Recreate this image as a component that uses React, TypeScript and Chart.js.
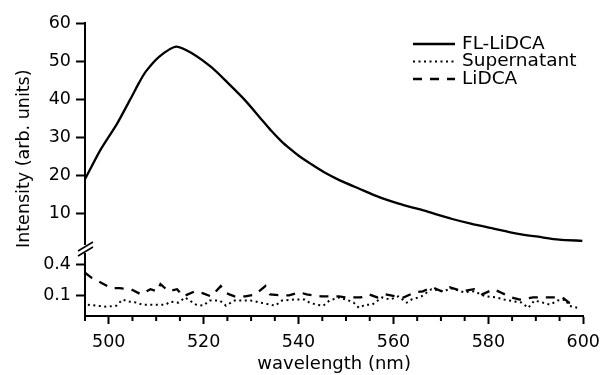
import React, { useEffect, useRef } from "react";
import { Chart, registerables } from "chart.js";

Chart.register(...registerables);

const FONT = "'DejaVu Sans', 'Liberation Sans', sans-serif";

const seriesLabels = ["FL-LiDCA", "Supernatant", "LiDCA"];
const xTitle = "wavelength (nm)";
const yTitle = "Intensity (arb. units)";
const xMajorTicks = [500, 520, 540, 560, 580, 600];
const upperTicks = [10, 20, 30, 40, 50, 60];
const lowerTicks = [0.1, 0.4];

const flWavelength = [495, 498.2, 501.8, 505.0, 506.4, 507.8, 510.6, 514.2, 517.6, 521.7, 525.2, 528.7, 532, 534.2, 536.3, 538.3, 540.1, 542.5, 545.3, 548.7, 552.8, 557, 561.1, 563.9, 566.3, 568.7, 572.2, 576.3, 581.1, 586, 590.8, 594.9, 599.8];
const flIntensity = [18.9, 26.5, 33.6, 41.0, 44.3, 47.2, 51.1, 53.8, 52.0, 48.3, 44.1, 39.7, 34.9, 31.7, 29.0, 26.8, 25.0, 23.0, 20.8, 18.6, 16.4, 14.2, 12.5, 11.5, 10.7, 9.8, 8.5, 7.2, 5.9, 4.6, 3.7, 3.0, 2.7];

const supWavelength = [495.6, 499.5, 501.6, 502.9, 504.3, 506, 507, 509.5, 512, 513, 514.7, 516.1, 518.4, 519.9, 521.3, 523.4, 524.7, 526.5, 528.5, 529.9, 532, 534, 535.1, 536.5, 539, 541.3, 542.3, 543.8, 545.2, 546.5, 548.5, 550, 551.6, 552.7, 554.1, 555.5, 557.6, 559.3, 561, 562.8, 563.8, 565.9, 568, 570.7, 572.1, 574.9, 577, 579.4, 581.8, 583.2, 587, 588.4, 589.7, 591.5, 593, 594.6, 596.3, 597, 598.7];
const supIntensity = [0.01, -0.01, 0.0, 0.06, 0.04, 0.03, 0.01, 0.01, 0.01, 0.04, 0.03, 0.08, 0.01, 0.0, 0.05, 0.05, 0.0, 0.05, 0.05, 0.05, 0.03, 0.01, 0.0, 0.05, 0.06, 0.06, 0.03, 0.01, 0.0, 0.05, 0.08, 0.06, 0.03, -0.02, 0.01, 0.01, 0.08, 0.06, 0.09, 0.03, 0.06, 0.09, 0.16, 0.14, 0.17, 0.13, 0.14, 0.09, 0.08, 0.06, 0.03, -0.02, 0.05, 0.03, 0.01, 0.05, 0.06, 0.0, -0.02];

const lidcaWavelength = [495, 496.4, 498.5, 500.5, 502.3, 504.7, 506.8, 508.8, 510.2, 510.9, 512.6, 514.4, 515.7, 518.2, 519.9, 521.6, 523.6, 524.5, 525.4, 526.5, 528.8, 530.9, 533, 534, 536.1, 538, 540.2, 541.7, 544.8, 546.2, 548.5, 550, 553.1, 554.8, 556.6, 558.3, 560.7, 562.1, 564.5, 566.2, 568.2, 570.1, 571.8, 574.5, 577, 578.7, 581.1, 582.5, 584.9, 586.6, 589.4, 590.8, 594.2, 595.6, 597, 598.7];
const lidcaIntensity = [0.32, 0.27, 0.22, 0.17, 0.17, 0.16, 0.11, 0.16, 0.14, 0.21, 0.14, 0.16, 0.09, 0.14, 0.12, 0.09, 0.19, 0.13, 0.11, 0.09, 0.09, 0.11, 0.19, 0.11, 0.1, 0.1, 0.13, 0.11, 0.09, 0.09, 0.09, 0.08, 0.08, 0.11, 0.08, 0.11, 0.09, 0.08, 0.13, 0.14, 0.18, 0.14, 0.18, 0.14, 0.16, 0.11, 0.16, 0.13, 0.08, 0.06, 0.08, 0.08, 0.08, 0.08, 0.03, 0.01];

const toPoints = (xs: number[], ys: number[]) => xs.map((x, i) => ({ x, y: ys[i] }));

const extrasPlugin = {
  id: "axisExtras",
  afterDraw(chart: any) {
    const ctx = chart.ctx;
    const xs = chart.scales.x;
    const hi = chart.scales.yHigh;
    ctx.save();
    ctx.strokeStyle = "#000";
    ctx.lineWidth = 2;
    ctx.setLineDash([]);
    // minor x ticks
    const axisY = xs.top;
    xs.ticks.forEach((t: any) => {
      if (!xMajorTicks.includes(t.value)) {
        const px = xs.getPixelForValue(t.value);
        ctx.beginPath();
        ctx.moveTo(px, axisY);
        ctx.lineTo(px, axisY + 5);
        ctx.stroke();
      }
    });
    // axis break
    const b = hi.bottom;
    const ax = chart.chartArea.left;
    ctx.fillStyle = "#fff";
    ctx.fillRect(ax - 3, b - 3, 6, 8);
    ctx.lineWidth = 1.5;
    ctx.beginPath();
    ctx.moveTo(ax - 7, b + 3);
    ctx.lineTo(ax + 8, b - 6);
    ctx.moveTo(ax - 7, b + 8);
    ctx.lineTo(ax + 8, b - 1);
    ctx.stroke();
    // legend
    const lx0 = 413, lx1 = 455, tx = 462, ly0 = 44, step = 17.5;
    chart.data.datasets.forEach((ds: any, i: number) => {
      const y = ly0 + i * step;
      ctx.strokeStyle = ds.borderColor;
      ctx.lineWidth = ds.borderWidth;
      ctx.lineCap = "butt";
      ctx.setLineDash(ds.borderDash || []);
      ctx.beginPath();
      ctx.moveTo(lx0, y);
      ctx.lineTo(lx1, y);
      ctx.stroke();
      ctx.setLineDash([]);
      ctx.fillStyle = "#000";
      ctx.font = `18.5px ${FONT}`;
      ctx.textBaseline = "middle";
      ctx.textAlign = "left";
      ctx.fillText(ds.label, tx, y);
    });
    ctx.restore();
  },
};

export default function App() {
  const canvasRef = useRef<HTMLCanvasElement | null>(null);

  useEffect(() => {
    document.body.style.margin = "0";
    const canvas = canvasRef.current;
    if (!canvas) return;
    const tickFont = { family: FONT, size: 17.5 };
    const chart = new Chart(canvas, {
      type: "line",
      data: {
        datasets: [
          {
            label: seriesLabels[0],
            data: toPoints(flWavelength, flIntensity),
            yAxisID: "yHigh",
            borderColor: "#000",
            borderWidth: 2.3,
            pointRadius: 0,
            tension: 0.25,
            fill: false,
          },
          {
            label: seriesLabels[1],
            data: toPoints(supWavelength, supIntensity),
            yAxisID: "yLow",
            borderColor: "#000",
            borderWidth: 2,
            borderDash: [2, 3.5],
            pointRadius: 0,
            tension: 0,
            fill: false,
          },
          {
            label: seriesLabels[2],
            data: toPoints(lidcaWavelength, lidcaIntensity),
            yAxisID: "yLow",
            borderColor: "#000",
            borderWidth: 2.3,
            borderDash: [9, 8],
            pointRadius: 0,
            tension: 0,
            fill: false,
          },
        ],
      },
      options: {
        responsive: false,
        animation: false,
        layout: { padding: { top: 23, right: 17, left: 0, bottom: 0 } },
        plugins: { legend: { display: false }, tooltip: { enabled: false } },
        scales: {
          x: {
            type: "linear",
            position: "bottom",
            min: 495,
            max: 600,
            ticks: {
              stepSize: 5,
              autoSkip: false,
              maxRotation: 0,
              padding: 8,
              color: "#000",
              font: tickFont,
              callback: (v: any) => (xMajorTicks.includes(Number(v)) ? String(v) : ""),
            },
            grid: {
              drawOnChartArea: false,
              tickLength: 8,
              tickWidth: 2,
              tickColor: (c: any) => (c.tick && xMajorTicks.includes(c.tick.value) ? "#000" : "rgba(0,0,0,0)"),
            },
            border: { color: "#000", width: 2 },
            title: { display: true, text: xTitle, color: "#000", font: { family: FONT, size: 18 }, padding: { top: 0, bottom: 0 } },
            afterFit: (s: any) => { s.height = 59; },
          },
          yLow: {
            type: "linear",
            position: "left",
            stack: "ystack",
            stackWeight: 68,
            min: -0.1,
            max: 0.56,
            afterBuildTicks: (s: any) => { s.ticks = lowerTicks.map((v) => ({ value: v })); },
            ticks: { color: "#000", font: tickFont, padding: 5, callback: (v: any) => String(v) },
            grid: { drawOnChartArea: false, tickLength: 9, tickWidth: 2, tickColor: "#000" },
            border: { color: "#000", width: 2 },
            afterFit: (s: any) => { s.width = 85; },
          },
          yHigh: {
            type: "linear",
            position: "left",
            stack: "ystack",
            stackWeight: 225,
            min: 0.8,
            max: 60,
            afterBuildTicks: (s: any) => { s.ticks = upperTicks.map((v) => ({ value: v })); },
            ticks: { color: "#000", font: tickFont, padding: 5, callback: (v: any) => String(v) },
            grid: { drawOnChartArea: false, tickLength: 9, tickWidth: 2, tickColor: "#000" },
            border: { color: "#000", width: 2 },
            title: { display: true, text: yTitle, align: "start", color: "#000", font: { family: FONT, size: 17.5 }, padding: { top: 14, bottom: 0 } },
            afterFit: (s: any) => { s.width = 85; },
          },
        },
      },
      plugins: [extrasPlugin],
    } as any);
    return () => chart.destroy();
  }, []);

  return (
    <div style={{ width: 608, height: 375 }}>
      <canvas ref={canvasRef} width={608} height={375} style={{ display: "block" }} />
    </div>
  );
}
